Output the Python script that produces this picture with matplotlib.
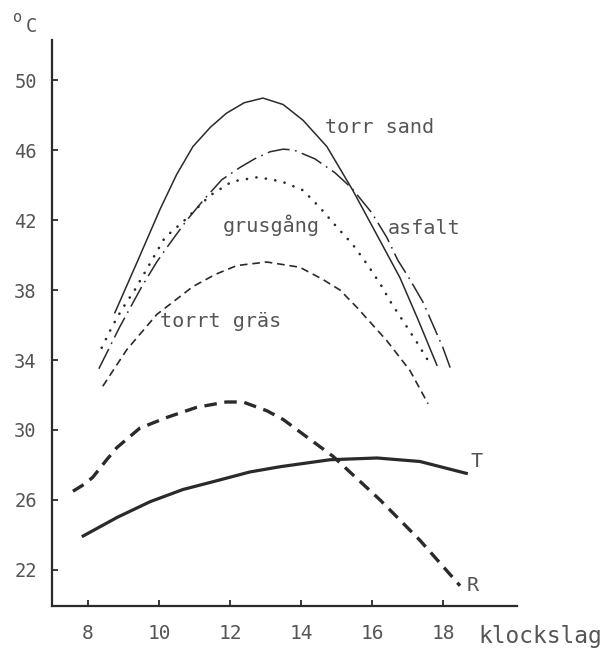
import matplotlib.pyplot as plt

plt.rcParams['font.family'] = ['DejaVu Sans Mono', 'DejaVu Sans']
plt.rcParams['lines.scale_dashes'] = False

# hours and temperatures (deg C)
sand_x = [8.76, 9.41, 10.03, 10.5, 10.96, 11.45, 11.9, 12.4, 12.93, 13.5, 14.06, 14.73, 15.46, 16.1, 16.79, 17.3, 17.83]
sand_y = [36.7, 39.7, 42.6, 44.6, 46.2, 47.3, 48.1, 48.7, 48.97, 48.6, 47.7, 46.2, 43.7, 41.3, 38.7, 36.3, 33.7]

asfalt_x = [8.31, 8.9, 9.52, 9.94, 10.25, 10.79, 11.24, 11.77, 12.28, 12.7, 13.13, 13.5, 13.8, 14.39, 14.96,
            15.44, 16.0, 16.42, 16.73, 17.07, 17.44, 17.72, 18.0, 18.25]
asfalt_y = [33.5, 35.9, 38.2, 39.6, 40.5, 42.0, 43.1, 44.3, 45.0, 45.5, 45.9, 46.05, 46.0, 45.5, 44.7,
            43.8, 42.4, 41.0, 39.7, 38.6, 37.3, 36.0, 34.7, 33.3]

grus_x = [8.39, 8.68, 8.96, 9.32, 9.66, 10.17, 10.68, 11.44, 12.06, 12.79, 13.46, 14.06, 14.54,
          15.01, 15.46, 15.89, 16.28, 16.5, 17.27, 17.63]
grus_y = [34.7, 35.9, 36.9, 38.0, 39.2, 41.0, 41.9, 43.4, 44.2, 44.45, 44.2, 43.7, 42.7,
          41.6, 40.6, 39.4, 38.2, 37.4, 35.0, 33.8]

gras_x = [8.42, 9.1, 9.94, 10.96, 11.6, 12.2, 13.04, 13.97, 14.62, 15.1, 15.58, 16.42, 17.07, 17.58]
gras_y = [32.5, 34.6, 36.6, 38.2, 38.9, 39.4, 39.6, 39.3, 38.6, 38.0, 37.0, 35.1, 33.4, 31.5]

t_x = [7.83, 8.82, 9.75, 10.68, 11.63, 12.56, 13.41, 14.82, 16.14, 17.35, 18.7]
t_y = [23.9, 25.0, 25.9, 26.6, 27.1, 27.6, 27.9, 28.3, 28.4, 28.2, 27.5]

r_x = [7.58, 7.9, 8.14, 8.53, 8.82, 9.46, 10.2, 11.07, 11.9, 12.37, 13.04, 13.5, 14.9, 16.23, 17.35, 18.48]
r_y = [26.5, 26.9, 27.3, 28.3, 29.0, 30.1, 30.7, 31.3, 31.6, 31.6, 31.1, 30.6, 28.5, 26.0, 23.7, 21.1]

xticks = [8, 10, 12, 14, 16, 18]
yticks = [22, 26, 30, 34, 38, 42, 46, 50]

ink = '#2a2a2a'
txt = '#555555'

fig = plt.figure(figsize=(6.16, 6.51), dpi=100)
ax = fig.add_axes([0.0844, 0.0691, 0.839 - 0.0844, 0.9386 - 0.0691])

ax.plot(sand_x, sand_y, color=ink, lw=1.1)
ax.plot(asfalt_x, asfalt_y, color=ink, lw=1.1, dashes=(16, 4, 1.2, 4))
ax.plot(grus_x, grus_y, color=ink, lw=1.9, dashes=(0.1, 6.8), dash_capstyle='round')
ax.plot(gras_x, gras_y, color=ink, lw=1.2, dashes=(5.5, 3.5))
ax.plot(t_x, t_y, color=ink, lw=2.3, solid_capstyle='butt')
ax.plot(r_x, r_y, color=ink, lw=2.4, dashes=(9, 5.5))

# curve labels
lab = dict(fontsize=14.5, color=txt, va='center')
ax.text(14.68, 47.3, 'torr sand', **lab)
ax.text(16.45, 41.5, 'asfalt', **lab)
ax.text(11.8, 41.7, 'grusgång', **lab)
ax.text(10.03, 36.2, 'torrt gräs', **lab)
ax.text(18.96, 28.2, 'T', ha='center', **lab)
ax.text(18.85, 21.1, 'R', ha='center', **lab)

ax.set_xlim(6.99, 20.08)
ax.set_ylim(19.94, 52.29)
ax.set_xticks(xticks)
ax.set_yticks(yticks)
ax.tick_params(axis='both', direction='in', length=4, width=1.3, color=ink, labelcolor=txt)
ax.tick_params(axis='x', labelsize=14, pad=13)
ax.tick_params(axis='y', labelsize=13.5, pad=11)

for s in ['top', 'right']:
    ax.spines[s].set_visible(False)
for s in ['left', 'bottom']:
    ax.spines[s].set_linewidth(1.6)
    ax.spines[s].set_color(ink)

fig.text(478 / 616, 1 - 636 / 651, 'klockslag', fontsize=16.5, color=txt, va='center')
fig.text(13 / 616, 1 - 18 / 651, 'o', fontsize=11, color=txt, va='center')
fig.text(26 / 616, 1 - 26 / 651, 'C', fontsize=13.5, color=txt, va='center')

fig.savefig('out.png', dpi=100, facecolor='white')
